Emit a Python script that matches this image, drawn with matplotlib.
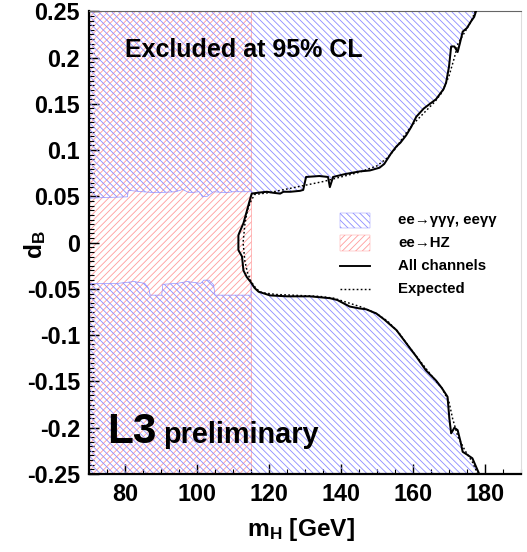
import numpy as np
import matplotlib.pyplot as plt
from matplotlib.patches import Rectangle
from matplotlib.lines import Line2D
from matplotlib.ticker import MultipleLocator

plt.rcParams['font.family'] = ['Liberation Sans', 'DejaVu Sans']
plt.rcParams['font.weight'] = 'bold'
plt.rcParams['mathtext.fontset'] = 'custom'
plt.rcParams['mathtext.rm'] = 'Liberation Sans:bold'
plt.rcParams['mathtext.it'] = 'Liberation Sans:bold'
plt.rcParams['mathtext.bf'] = 'Liberation Sans:bold'
plt.rcParams['hatch.linewidth'] = 0.75

BLUE = '#8c8cff'
RED = '#ff9c9c'
HATCH_B = '\\' * 4
HATCH_R = '/' * 4

# ee->HZ excluded below this mass
hz_limit = 115.0

# ee->ggg / eegg boundary below the HZ limit
wig_up_m = [70, 76, 80.7, 80.9, 84.9, 88.6, 94.1, 96.0, 97.8, 100.6, 101.5, 102.8, 104.6, 108.2, 110, 115.0]
wig_up_d = [0.048, 0.049, 0.0495, 0.0565, 0.055, 0.054, 0.055, 0.0575, 0.054, 0.055, 0.0495, 0.050, 0.055, 0.054, 0.055, 0.055]
wig_lo_m = [70, 78, 82.5, 85.5, 86.6, 87.0, 90.2, 90.5, 94.5, 97.3, 101, 101.9, 103.3, 104.6, 105.0, 110, 115.0]
wig_lo_d = [-0.044, -0.044, -0.042, -0.044, -0.0495, -0.0567, -0.0567, -0.045, -0.044, -0.042, -0.044, -0.0405, -0.0405, -0.0455, -0.0567, -0.0567, -0.0567]

# observed limit (all channels)
obs_up_m = [115.2, 117, 119.4, 121, 123.1, 124, 126, 128.6, 129.5, 130.3, 134, 136.4, 136.9, 137.8, 141, 145.2,
            148, 150.7, 152, 154, 155.4, 156.5, 158.1, 159.5, 160.9, 163, 166.4, 168.5, 169.2, 170, 170.6,
            171.5, 172.4, 173, 173.8, 175, 176.1, 177, 177.5]
obs_up_d = [0.053, 0.054, 0.055, 0.054, 0.053, 0.055, 0.055, 0.056, 0.057, 0.071, 0.072, 0.071, 0.060, 0.071, 0.074, 0.077,
            0.078, 0.081, 0.085, 0.097, 0.104, 0.108, 0.116, 0.125, 0.136, 0.145, 0.155, 0.166, 0.173, 0.19, 0.212,
            0.212, 0.206, 0.215, 0.228, 0.232, 0.239, 0.244, 0.25]
obs_bulge_m = [115.2, 114.6, 113.9, 112.9, 111.9, 111.5, 111.5, 112.5, 112.9, 113.8, 115.0, 116, 117.1, 120.3]
obs_bulge_d = [0.053, 0.045, 0.035, 0.021, 0.012, 0.008, -0.008, -0.015, -0.030, -0.037, -0.043, -0.049, -0.053, -0.057]
obs_lo_m = [120.3, 125, 131.4, 136.9, 139, 142.4, 145, 147, 149.8, 152, 155.4, 158, 160.9, 163.6, 166.4, 168,
            169.6, 170.1, 170.6, 171.5, 172.4, 173.2, 173.8, 175, 176.5, 177.5, 178.4]
obs_lo_d = [-0.057, -0.058, -0.058, -0.060, -0.062, -0.069, -0.071, -0.072, -0.0765, -0.083, -0.0945, -0.108, -0.123, -0.138, -0.149, -0.157,
            -0.1666, -0.19, -0.206, -0.200, -0.2026, -0.215, -0.226, -0.229, -0.233, -0.242, -0.25]

# expected limit
exp_m = [177.3, 176, 174, 172.5, 171.5, 170, 168, 166, 163, 160, 158, 155, 153, 150, 145, 140, 135, 130, 125, 120, 116,
         115, 114, 113.3, 112.8, 113.3, 114, 115, 116.5, 118, 122, 128, 134, 138, 142, 146, 150, 153, 156, 159, 162,
         165, 168, 170, 171, 172.5, 174.5, 176.5, 178]
exp_d = [0.25, 0.238, 0.225, 0.215, 0.2, 0.18, 0.162, 0.152, 0.14, 0.128, 0.118, 0.101, 0.092, 0.083, 0.076, 0.071, 0.066, 0.062, 0.058, 0.054, 0.052,
         0.045, 0.035, 0.02, 0.0, -0.02, -0.032, -0.042, -0.05, -0.054, -0.056, -0.057, -0.058, -0.06, -0.065, -0.07, -0.077, -0.085, -0.097, -0.113, -0.128,
         -0.143, -0.157, -0.172, -0.19, -0.21, -0.225, -0.237, -0.25]

x_ticks = [80, 100, 120, 140, 160, 180]
y_ticks = [0.25, 0.2, 0.15, 0.1, 0.05, 0, -0.05, -0.1, -0.15, -0.2, -0.25]
y_labels = ['0.25', '0.2', '0.15', '0.1', '0.05', '0', '-0.05', '-0.1', '-0.15', '-0.2', '-0.25']
legend_labels = ['ee\u2192\u03b3\u03b3\u03b3, ee\u03b3\u03b3', 'ee\u2192HZ', 'All channels', 'Expected']

fig = plt.figure(figsize=(527 / 80, 552 / 80), dpi=80)
ax = fig.add_axes([0.1689, 0.1413, 0.8197, 0.8382])
ax.set_xlim(70, 190)
ax.set_ylim(-0.25, 0.25)

# HZ excluded region
ax.axvspan(70, hz_limit, facecolor='none', edgecolor=RED, hatch=HATCH_R, lw=0.6, zorder=1)

# ee->ggg excluded region: outside the boundary
bulge_m = np.array(obs_bulge_m)
bulge_d = np.array(obs_bulge_d)
sel = (bulge_m >= hz_limit) & (bulge_d < 0)
up_m = np.concatenate([wig_up_m, obs_up_m])
up_d = np.concatenate([wig_up_d, obs_up_d])
lo_m = np.concatenate([wig_lo_m, bulge_m[sel], obs_lo_m[1:]])
lo_d = np.concatenate([wig_lo_d, bulge_d[sel], obs_lo_d[1:]])
ax.fill_between(up_m, up_d, 0.25, facecolor='none', edgecolor=BLUE, hatch=HATCH_B, lw=0.6, zorder=2)
ax.fill_between(lo_m, -0.25, lo_d, facecolor='none', edgecolor=BLUE, hatch=HATCH_B, lw=0.6, zorder=2)

obs_m = np.concatenate([obs_up_m[::-1], obs_bulge_m[1:], obs_lo_m[1:]])
obs_d = np.concatenate([obs_up_d[::-1], obs_bulge_d[1:], obs_lo_d[1:]])
ax.plot(exp_m, exp_d, color='black', lw=1.3, ls=(0, (1.2, 1.6)), zorder=3)
ax.plot(obs_m, obs_d, color='black', lw=1.8, zorder=4)

# axes style
ax.set_xticks(x_ticks)
ax.set_yticks(y_ticks, labels=y_labels)
ax.xaxis.set_minor_locator(MultipleLocator(5))
ax.yaxis.set_minor_locator(MultipleLocator(0.005))
ax.tick_params(which='both', direction='in', top=False, right=False, labelsize=21, pad=8)
ax.tick_params(which='major', length=9, width=1.3)
ax.tick_params(which='minor', length=4.5, width=1.0)
for s in ['left', 'bottom']:
    ax.spines[s].set_linewidth(2.0)
ax.spines['top'].set_color('#666666')
ax.spines['top'].set_linewidth(1.0)
ax.spines['right'].set_color('#dddddd')
ax.spines['right'].set_linewidth(1.0)

ax.set_xlabel(r'$\mathbf{m}_\mathbf{H}$ [GeV]', fontsize=22, fontweight='bold', va='center')
ax.xaxis.set_label_coords(0.49, -0.121)
ax.set_ylabel(r'$\mathbf{d}_\mathbf{B}$', fontsize=22, va='center')
ax.yaxis.set_label_coords(-0.125, 0.495)

ax.text(0.083, 0.901, 'Excluded at 95% CL', fontsize=22.5, transform=ax.transAxes, zorder=6)
ax.text(0.041, 0.067, 'L3', fontsize=38, transform=ax.transAxes, zorder=6)
ax.text(0.171, 0.067, 'preliminary', fontsize=26, transform=ax.transAxes, zorder=6)

# legend, drawn by hand
lx0, lw_box, tx = 0.581, 0.069, 0.715
ax.add_patch(Rectangle((lx0, 0.532), lw_box, 0.033, transform=ax.transAxes, facecolor='white',
                       edgecolor=BLUE, hatch=HATCH_B, lw=0.4, zorder=6))
ax.add_patch(Rectangle((lx0, 0.483), lw_box, 0.034, transform=ax.transAxes, facecolor='white',
                       edgecolor=RED, hatch=HATCH_R, lw=0.4, zorder=6))
ax.add_line(Line2D([lx0, lx0 + lw_box], [0.450, 0.450], transform=ax.transAxes, color='black', lw=1.7, zorder=6))
ax.add_line(Line2D([lx0, lx0 + lw_box], [0.400, 0.400], transform=ax.transAxes, color='black', lw=1.3,
                   ls=(0, (1.2, 1.6)), zorder=6))
for yy, lab in zip([0.549, 0.499, 0.450, 0.400], legend_labels):
    ax.text(tx, yy, lab, fontsize=13.5, va='center', transform=ax.transAxes, zorder=6)

fig.savefig('out.png', dpi=80)
